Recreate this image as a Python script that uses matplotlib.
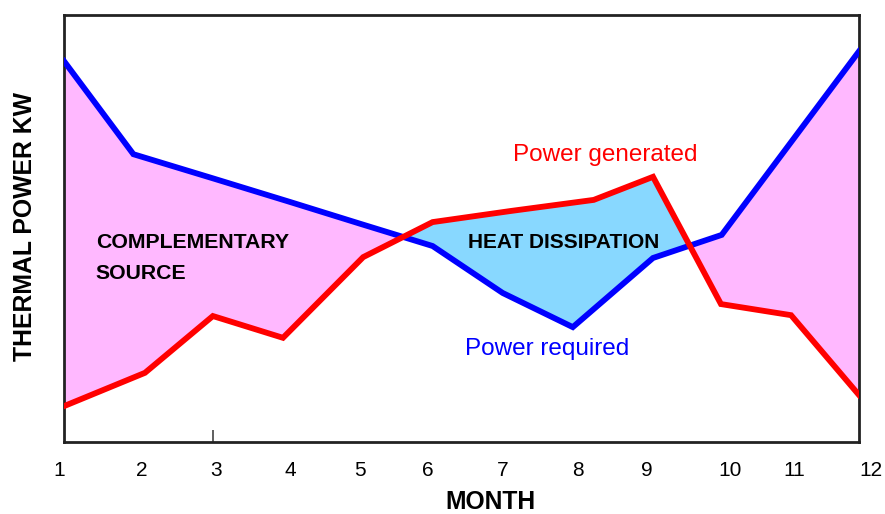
import matplotlib
matplotlib.use("Agg")
import matplotlib.pyplot as plt
import numpy as np

plt.rcParams["font.family"] = ["Liberation Sans", "DejaVu Sans"]

# power required by the building (blue) and power generated (red), per month
required_month = [1.00, 1.96, 3.05, 4.13, 5.10, 6.10, 7.07, 8.04, 9.15, 10.10, 12.00]
required_kw = [89.2, 67.4, 61.8, 56.2, 51.1, 45.9, 34.9, 26.9, 43.1, 48.5, 91.5]

generated_month = [1.00, 2.12, 3.06, 4.03, 5.14, 6.10, 7.18, 8.33, 9.15, 10.09, 11.06, 12.00]
generated_kw = [8.4, 16.2, 29.5, 24.4, 43.3, 51.5, 54.1, 56.7, 62.1, 32.3, 29.7, 11.0]

tick_pos = [0.93, 2.07, 3.11, 4.13, 5.09, 6.03, 7.07, 8.11, 9.06, 10.21, 11.11, 12.17]
tick_labels = [str(m) for m in range(1, 13)]

PINK = "#ffb8ff"
CYAN = "#88d8ff"

fig = plt.figure(figsize=(8.85, 5.14), dpi=100)
ax = fig.add_axes([64 / 885, 72 / 514, 795 / 885, 427 / 514])

# common grid so both curves can be compared for the shaded areas
grid = np.union1d(required_month, generated_month)
req = np.interp(grid, required_month, required_kw)
gen = np.interp(grid, generated_month, generated_kw)
ax.fill_between(grid, req, gen, where=req >= gen, interpolate=True,
                color=PINK, lw=0, zorder=1)
ax.fill_between(grid, req, gen, where=gen >= req, interpolate=True,
                color=CYAN, lw=0, zorder=1)

ax.plot(required_month, required_kw, color="#0000ff", lw=4.2,
        solid_joinstyle="miter", zorder=3)
ax.plot(generated_month, generated_kw, color="#ff0000", lw=4.2,
        solid_joinstyle="miter", zorder=4)

# month labels sit a little off the grid, so they are placed as plain text
xt = ax.get_xaxis_transform()
for pos, lab in zip(tick_pos, tick_labels):
    ax.text(pos, -0.066, lab, transform=xt, fontsize=15, ha="center",
            va="center", clip_on=False)

ax.set_xticks([])
ax.set_xticks([3.06], minor=True)
ax.tick_params(axis="x", which="minor", direction="in", length=9, width=1.2,
               color="#444444", labelbottom=False)
ax.set_yticks([])
ax.set_xlim(1, 12)
ax.set_ylim(0, 100)

for side in ["left", "bottom", "top", "right"]:
    ax.spines[side].set_linewidth(2)
    ax.spines[side].set_color("#222222")

ax.set_xlabel("MONTH", fontsize=17.7, fontweight="bold")
ax.xaxis.set_label_coords(0.537, -0.113)
ax.set_ylabel("THERMAL POWER KW", fontsize=17.8, fontweight="bold")
ax.yaxis.set_label_coords(-0.034, 0.505)

ax.text(1.44, 43.2, "COMPLEMENTARY\nSOURCE", fontsize=15.3, fontweight="bold",
        ha="left", va="center", linespacing=1.8, zorder=5)
ax.text(7.91, 46.8, "HEAT DISSIPATION", fontsize=15, fontweight="bold",
        ha="center", va="center", zorder=5)
ax.text(8.49, 65.8, "Power generated", fontsize=17.5, color="#ff0000",
        ha="center", va="baseline", zorder=5)
ax.text(7.68, 20.4, "Power required", fontsize=17.5, color="#0000ff",
        ha="center", va="baseline", zorder=5)

fig.savefig("out.png", dpi=100)
